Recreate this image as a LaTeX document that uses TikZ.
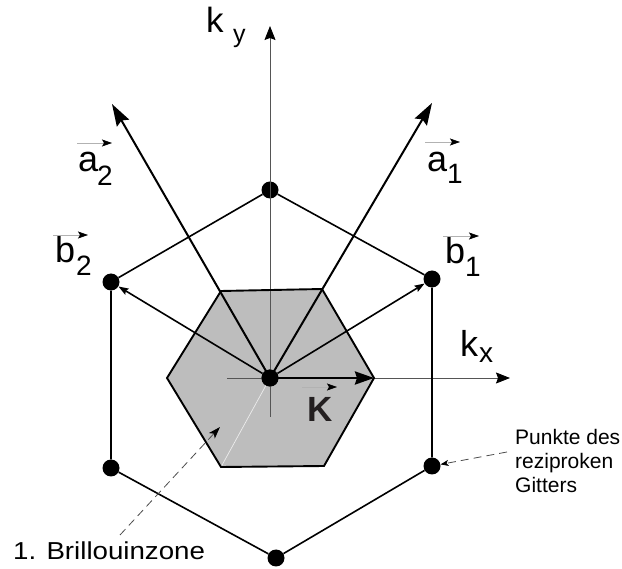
\documentclass[tikz,border=0pt]{standalone}
\usepackage{fontspec}
\setmainfont{Liberation Sans}
\usetikzlibrary{arrows.meta}
\definecolor{bzgray}{RGB}{189,189,189}
\definecolor{axisgray}{RGB}{85,85,85}
\definecolor{kcol}{RGB}{35,31,32}
\begin{document}
\begin{tikzpicture}[x=1pt,y=-1pt,
  dot/.style={circle,fill=black,inner sep=0pt,minimum size=17pt},
  axisline/.style={draw=axisgray,line width=0.8pt,-{Stealth[length=14pt,width=11pt,inset=2pt,color=black]}},
  aline/.style={draw=black,line width=2pt,-{Stealth[length=22pt,width=14pt,inset=3pt]}},
  bline/.style={draw=black,line width=1.6pt,-{Stealth[length=10pt,width=7pt,inset=1.5pt]}},
  kline/.style={draw=black,line width=2.8pt,-{Stealth[length=19pt,width=13pt,inset=2pt]}},
  outer/.style={draw=black,line width=1.6pt},
  vecarrow/.style={draw=black!30,line width=0.6pt,-{Stealth[length=10pt,width=7pt,inset=2pt,color=black]}},
  lbl/.style={inner sep=0pt,anchor=base west,font=\fontsize{36}{40}\selectfont},
  sublbl/.style={inner sep=0pt,anchor=base west,font=\fontsize{28}{32}\selectfont},
  note/.style={inner sep=0pt,anchor=base west,font=\fontsize{21}{24}\selectfont},
  dashedarrow/.style={draw=black!70,line width=0.8pt,dash pattern=on 8pt off 5pt,-{Stealth[length=12pt,width=8pt,inset=3pt,color=black]}},
]
\useasboundingbox (0,0) rectangle (622,569);

% first Brillouin zone
\coordinate (H1) at (221,291);
\coordinate (H2) at (322,289);
\coordinate (H3) at (374,378);
\coordinate (H4) at (324,466);
\coordinate (H5) at (221,467);
\coordinate (H6) at (167,378);
\fill[bzgray] (H1) -- (H2) -- (H3) -- (H4) -- (H5) -- (H6) -- cycle;

% reciprocal lattice points
\node[dot] (O) at (270,378) {};
\node[dot] (T) at (270,190) {};
\node[dot] (UR) at (432,279) {};
\node[dot] (LR) at (432,466) {};
\node[dot] (B) at (276,558) {};
\node[dot] (LL) at (111,468) {};
\node[dot] (UL) at (111,282) {};

% axes
\coordinate (kxs) at (227,378);
\coordinate (kxe) at (510,378);
\coordinate (kys) at (270,417);
\coordinate (kye) at (270,26);
\draw[axisline] (kxs) -- (kxe);
\draw[axisline] (kys) -- (kye);

% light line in the zone
\draw[white!85!gray,line width=0.7pt] (O.center) -- (H5);

% zone outline
\draw[black,line width=1.9pt,line join=miter] (H1) -- (H2) -- (H3) -- (H4) -- (H5) -- (H6) -- cycle;

% outer hexagon
\draw[outer] (T) -- (UR) -- (LR) -- (B) -- (LL) -- (UL) -- (T);

% real-space vectors
\coordinate (a1e) at (432,103);
\coordinate (a2e) at (112,104);
\draw[aline] (O.center) -- (a1e);
\draw[aline] (O.center) -- (a2e);

% reciprocal vectors
\draw[bline] (O) -- (UR);
\draw[bline] (O) -- (UL);

% K vector
\draw[kline] (O.center) -- (H3);

\node[dot] at (O) {};

% labels
\node[lbl] (la1) at (427,172) {a};
\node[sublbl] (la1s) at (447,184) {1};
\coordinate (va1s) at (425,142); \coordinate (va1e) at (460,142);
\draw[vecarrow] (va1s) -- (va1e);

\node[lbl] (la2) at (78,172) {a};
\node[sublbl] (la2s) at (97,186) {2};
\coordinate (va2s) at (77,143); \coordinate (va2e) at (112,143);
\draw[vecarrow] (va2s) -- (va2e);

\node[lbl] (lb1) at (445,264) {b};
\node[sublbl] (lb1s) at (465,277) {1};
\coordinate (vb1s) at (443,236); \coordinate (vb1e) at (479,236);
\draw[vecarrow] (vb1s) -- (vb1e);

\node[lbl] (lb2) at (55,263) {b};
\node[sublbl] (lb2s) at (76,276) {2};
\coordinate (vb2s) at (53,235); \coordinate (vb2e) at (88,235);
\draw[vecarrow] (vb2s) -- (vb2e);

\node[lbl] (lkx) at (460,357) {k};
\node[sublbl] (lkxs) at (479,363) {x};

\node[lbl,font=\fontsize{35}{40}\selectfont] (lky) at (206,33) {k};
\node[sublbl,font=\fontsize{25}{30}\selectfont] (lkys) at (233,43) {y};

\node[lbl,font=\fontsize{35}{40}\selectfont\bfseries,text=kcol] (lK) at (307,422) {K};
\coordinate (vKs) at (302,387); \coordinate (vKe) at (337,387);
\draw[vecarrow] (vKs) -- (vKe);

% annotations
\node[note] (p1) at (515,445) {Punkte des};
\node[note] (p2) at (515,469) {reziproken};
\node[note] (p3) at (515,493) {Gitters};
\coordinate (ps) at (507,452);
\draw[dashedarrow,-{Stealth[length=8pt,width=6pt,inset=2pt,color=black]}] (ps) -- (LR);

\node[note,font=\fontsize{24.5}{28}\selectfont] (bz) at (13,559) {\scalebox{1.13}[1]{1. Brillouinzone}};
\coordinate (bzs) at (120,535);
\coordinate (bze) at (220,427);
\draw[dashedarrow] (bzs) -- (bze);
\end{tikzpicture}
\end{document}
